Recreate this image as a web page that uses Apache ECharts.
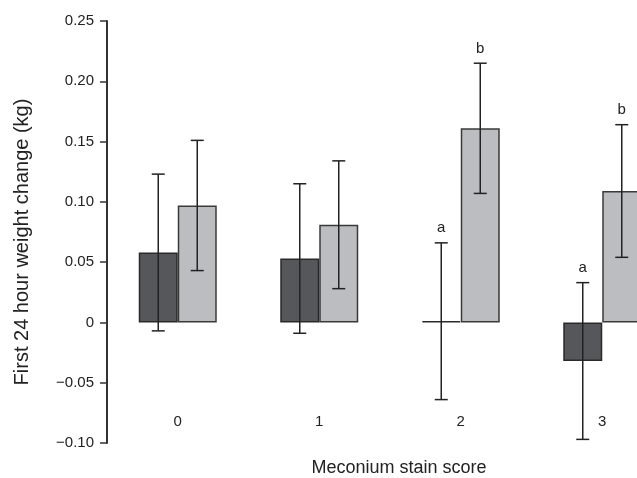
<!DOCTYPE html>
<html>
<head>
<meta charset="utf-8">
<script src="https://cdn.jsdelivr.net/npm/echarts@6/dist/echarts.min.js"></script>
<style>
  html, body { margin: 0; padding: 0; background: #fff; }
  #container { width: 637px; height: 478px; }
</style>
</head>
<body>
<div id="container"></div>
<script>
var categories = ['0', '1', '2', '3'];
// dark bars (group A) and light bars (group B): means and error half-widths
var darkMean = [0.058, 0.053, 0.001, -0.032];
var darkErr = [0.065, 0.062, 0.065, 0.065];
var lightMean = [0.097, 0.081, 0.161, 0.109];
var lightErr = [0.054, 0.053, 0.054, 0.055];
var darkLetters = ['', '', 'a', 'a'];
var lightLetters = ['', '', 'b', 'b'];

var FONT = "'Liberation Sans', Arial, sans-serif";
var BAR_W = 39;

var dom = document.getElementById('container');
var myChart = echarts.init(dom, null, { renderer: 'canvas' });

function errData(mean, err) {
  return mean.map(function (m, i) { return [i, m - err[i], m + err[i]]; });
}

function errRenderer(offset, letters) {
  return function (params, api) {
    var i = api.value(0);
    var lo = api.coord([i, api.value(1)]);
    var hi = api.coord([i, api.value(2)]);
    var x = lo[0] + offset;
    var cap = 6.5;
    var st = { stroke: '#222', lineWidth: 1.5 };
    var children = [
      { type: 'line', shape: { x1: x, y1: lo[1], x2: x, y2: hi[1] }, style: st },
      { type: 'line', shape: { x1: x - cap, y1: lo[1], x2: x + cap, y2: lo[1] }, style: st },
      { type: 'line', shape: { x1: x - cap, y1: hi[1], x2: x + cap, y2: hi[1] }, style: st }
    ];
    if (letters[i]) {
      children.push({
        type: 'text',
        style: {
          text: letters[i], x: x, y: hi[1] - 7,
          align: 'center', verticalAlign: 'bottom',
          fontSize: 15, fontFamily: FONT, fill: '#222'
        }
      });
    }
    return { type: 'group', children: children };
  };
}

var option = {
  backgroundColor: '#fff',
  animation: false,
  grid: { left: 107, right: -36, top: 21, bottom: 35, outerBoundsMode: 'none' },
  xAxis: {
    type: 'category',
    data: categories,
    axisLine: { show: false },
    axisTick: { show: false },
    axisLabel: { margin: -29, fontSize: 15, color: '#222', fontFamily: FONT },
    name: 'Meconium stain score',
    nameLocation: 'middle',
    nameGap: 16,
    nameTextStyle: { fontSize: 18, color: '#222', fontFamily: FONT, padding: [0, 0, 0, 18] }
  },
  yAxis: {
    type: 'value',
    min: -0.1,
    max: 0.25,
    interval: 0.05,
    splitLine: { show: false },
    axisLine: { show: true, lineStyle: { color: '#333', width: 2 } },
    axisTick: { show: true, length: 7, lineStyle: { color: '#333', width: 1.5 } },
    axisLabel: {
      margin: 13, fontSize: 15, color: '#222', fontFamily: FONT,
      formatter: function (v) {
        if (Math.abs(v) < 1e-9) return '0';
        return (v < 0 ? '\u2212' : '') + Math.abs(v).toFixed(2);
      }
    },
    name: 'First 24 hour weight change (kg)',
    nameLocation: 'middle',
    nameGap: 75,
    nameTextStyle: { fontSize: 20, color: '#222', fontFamily: FONT, padding: [0, 20, 0, 0] }
  },
  series: [
    {
      type: 'bar',
      data: darkMean,
      barWidth: BAR_W,
      barGap: '0%',
      itemStyle: { color: '#55575a', borderColor: '#2a2a2a', borderWidth: 1.5 }
    },
    {
      type: 'bar',
      data: lightMean,
      barWidth: BAR_W,
      barGap: '0%',
      itemStyle: { color: '#bcbdc1', borderColor: '#3a3a3a', borderWidth: 1.5 }
    },
    {
      type: 'custom',
      data: errData(darkMean, darkErr),
      renderItem: errRenderer(-BAR_W / 2, darkLetters),
      z: 5
    },
    {
      type: 'custom',
      data: errData(lightMean, lightErr),
      renderItem: errRenderer(BAR_W / 2, lightLetters),
      z: 5
    }
  ]
};

myChart.setOption(option);
window.addEventListener('resize', myChart.resize);
</script>
</body>
</html>
